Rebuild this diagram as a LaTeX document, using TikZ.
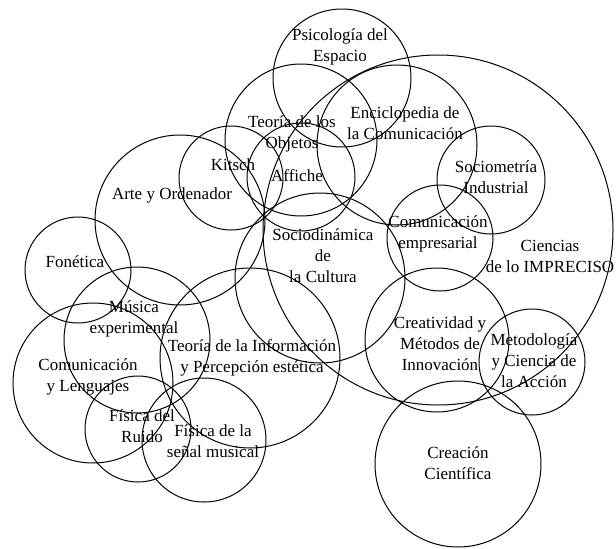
\documentclass[tikz,border=0pt]{standalone}
\usepackage{fontspec}
\setmainfont{Liberation Serif}
\begin{document}
\begin{tikzpicture}
[x=1pt,y=-1pt,
 circledecorate/.style={shape=circle,inner sep=0pt,draw,line width=1pt},%
 textdecorate/.style={align=center,inner sep=0pt,font=\fontsize{17}{21}\selectfont}]
\useasboundingbox (0,0) rectangle (616,549);
%% circles
\foreach \nodename/\x/\y/\r in {psico/342/78/69, objetos/301/140/76, encic/397/145/80,
  kitsch/231/178/52, affiche/301/177/54, arte/180/220/85, socio/491/180/54,
  empres/440/238/53, ciencias/438/230/175, fonet/78/270/53, cultura/320/278/85,
  musica/137/340/73, informa/250/358/90, lengua/93/383/80, ruido/138/429/53,
  senal/204/440/62, creativ/437/340/72, metodo/532/362/53, creacion/458/464/83} {
  \node (\nodename) at (\x,\y) [circledecorate,minimum size=2*\r pt] {};
}
%% labels
\foreach \nodename/\x/\y/\txt in {psico/340/47/{Psicología del\\Espacio},
  objetos/292/134/{Teoría de los\\Objetos},
  encic/405/123/{Enciclopedia de\\la Comunicación},
  kitsch/233/165/{Kitsch}, affiche/297/176/{Affiche},
  arte/172/195/{Arte y Ordenador},
  socio/496/177/{Sociometría\\Industrial},
  empres/438/234/{Comunicación\\empresarial},
  ciencias/550/256/{Ciencias\\de lo IMPRECISO},
  cultura/323/256/{Sociodinámica\\de\\la Cultura},
  fonet/75/262/{Fonética},
  musica/134/319/{Música\\experimental},
  informa/252/358/{Teoría de la Información\\y Percepción estética},
  lengua/88/377/{Comunicación\\y Lenguajes},
  ruido/142/426/{Física del\\Ruido},
  senal/213/441/{Física de la\\señal musical},
  creativ/440/344/{Creatividad y\\Métodos de\\Innovación},
  metodo/534/361/{Metodología\\y Ciencia de\\la Acción},
  creacion/458/463/{Creación\\Científica}} {
  \node (t\nodename) at (\x,\y) [textdecorate] {\txt};
}
\end{tikzpicture}
\end{document}
